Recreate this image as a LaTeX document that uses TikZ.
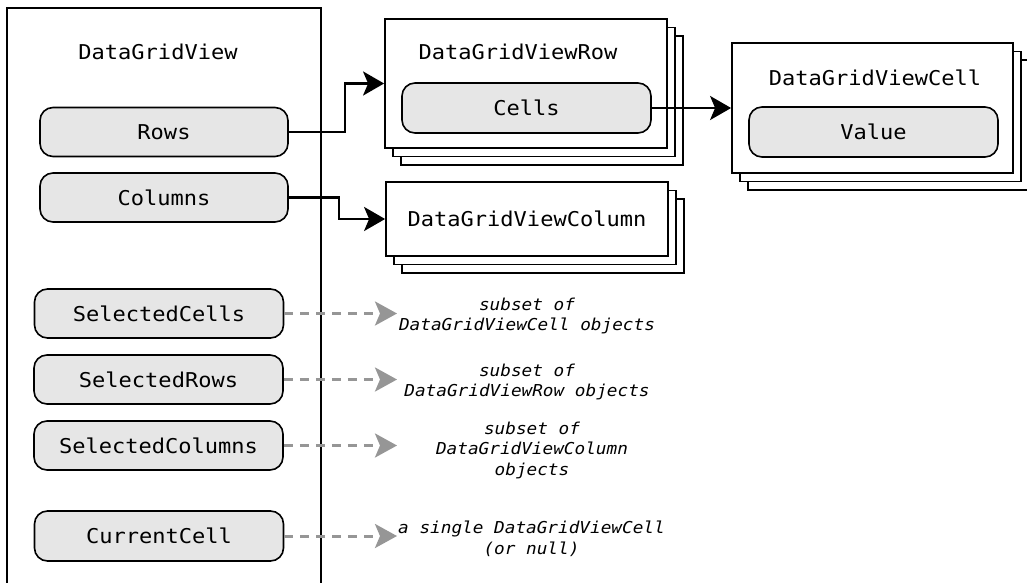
\documentclass[tikz,border=0pt]{standalone}
\usepackage{fontspec}
\usetikzlibrary{arrows.meta}
\usetikzlibrary{shadows}
\newfontfamily\codefont[FakeStretch=1.08]{DejaVu Sans Mono}
\definecolor{pillgray}{RGB}{230,230,230}
\definecolor{hintgray}{RGB}{150,150,150}

\begin{document}
\begin{tikzpicture}[x=1pt,y=-1pt]

  \tikzset{code/.style = {font=\codefont\fontsize{20.4pt}{24pt}\selectfont}}
  \tikzset{pill/.style = {code,shape=rectangle,rounded corners=13pt,draw,line width=1.6pt,fill=pillgray,minimum width=248pt,minimum height=49pt}}
  \tikzset{stack/.style = {code,shape=rectangle,draw,fill=white,line width=1.8pt,
      copy shadow={shadow xshift=16pt,shadow yshift=-17pt},
      copy shadow={shadow xshift=8pt,shadow yshift=-8.5pt}}}
  \tikzset{note/.style = {font=\codefont\itshape\fontsize{16.4pt}{20.5pt}\selectfont,align=center,inner sep=0pt}}
  \tikzset{link/.style = {-{Stealth[length=21pt,width=24pt,inset=5pt]},line width=2.6pt}}
  \tikzset{hint/.style = {-{Stealth[length=22pt,width=24pt,inset=5pt]},line width=3pt,hintgray,dash pattern=on 9pt off 7pt}}
  \useasboundingbox (0,0) rectangle (1027,583);
  % DataGridView
  \draw[line width=1.5pt] (7,584) |- (321,8) -- (321,584);
  \node[code] (dgv) at (158,52) {DataGridView};
  \node[pill] (rows) at (164,132) {Rows};
  \node[pill] (cols) at (164,197.5) {Columns};
  \node[pill,minimum width=249pt] (selcells) at (159,313.5) {SelectedCells};
  \node[pill,minimum width=249pt] (selrows) at (158.5,379.5) {SelectedRows};
  \node[pill,minimum width=249pt] (selcols) at (158.5,445.5) {SelectedColumns};
  \node[pill,minimum width=249pt,minimum height=50pt] (current) at (159,536) {CurrentCell};
  % collections
  \node[stack,minimum width=282pt,minimum height=129pt] (rowbox) at (526,83.5) {};
  \node[code] (rowtitle) at (518,52) {DataGridViewRow};
  \node[pill,minimum width=249pt,minimum height=50pt] (cells) at (526.5,108) {Cells};
  \node[stack,minimum width=282pt,minimum height=74pt] (colbox) at (527,219) {DataGridViewColumn};
  \node[stack,minimum width=281pt,minimum height=130pt] (cellbox) at (872.5,108) {};
  \node[code] (celltitle) at (875,78) {DataGridViewCell};
  \node[pill,minimum width=249pt,minimum height=50pt] (value) at (873.5,132) {Value};
  % notes
  \coordinate (tip) at (397,0);
  \node[note] (cellsnote) at (527,316) {subset of\\DataGridViewCell objects};
  \node[note] (rowsnote) at (527,382) {subset of\\DataGridViewRow objects};
  \node[note] (colsnote) at (532,450) {subset of\\DataGridViewColumn\\objects};
  \node[note] (curnote) at (531.5,539) {a single DataGridViewCell\\(or null)};
  %edges
  \draw[link] (rows.east) -- ++(56,0) |- (rowbox.west);
  \draw[link] (cols.east) -- ++(50,0) |- (colbox.west);
  \draw[link] (cells.east) -- (cellbox.west);
  \draw[hint] (selcells.east) -- (selcells.east -| tip);
  \draw[hint] (selrows.east) -- (selrows.east -| tip);
  \draw[hint] (selcols.east) -- (selcols.east -| tip);
  \draw[hint] (current.east) -- (current.east -| tip);
\end{tikzpicture}
\end{document}
